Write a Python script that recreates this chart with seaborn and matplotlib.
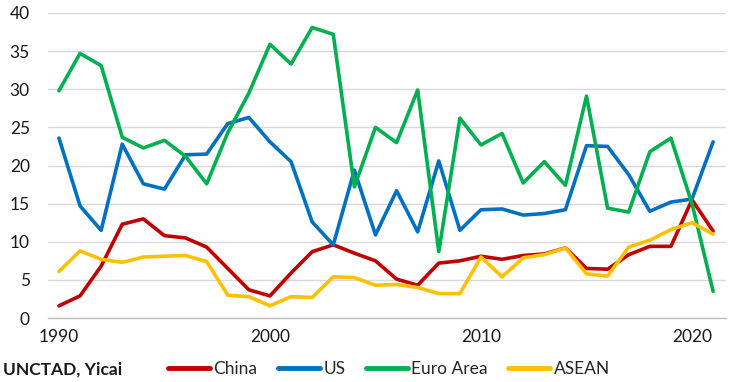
import numpy as np
import pandas as pd
import matplotlib
matplotlib.use("Agg")
import matplotlib.pyplot as plt
import seaborn as sns

years = list(range(1990, 2022))
china = [1.6, 2.9, 6.8, 12.3, 13.0, 10.8, 10.5, 9.3, 6.5, 3.7, 2.9, 5.9, 8.7, 9.6, 8.5, 7.5,
         5.1, 4.3, 7.2, 7.5, 8.1, 7.7, 8.2, 8.4, 9.2, 6.5, 6.4, 8.3, 9.4, 9.4, 15.5, 11.4]
us = [23.6, 14.7, 11.5, 22.8, 17.6, 16.9, 21.4, 21.5, 25.5, 26.3, 23.1, 20.5, 12.6, 9.6, 19.4, 10.9,
      16.7, 11.3, 20.6, 11.5, 14.2, 14.3, 13.5, 13.7, 14.2, 22.6, 22.5, 18.8, 14.0, 15.2, 15.6, 23.1]
euro = [29.8, 34.7, 33.1, 23.7, 22.3, 23.3, 21.2, 17.6, 24.3, 29.5, 35.9, 33.3, 38.1, 37.2, 17.2, 25.0,
        23.0, 29.9, 8.7, 26.2, 22.7, 24.2, 17.7, 20.5, 17.4, 29.1, 14.4, 13.9, 21.8, 23.6, 15.0, 3.5]
asean = [6.1, 8.8, 7.7, 7.3, 8.0, 8.1, 8.2, 7.4, 3.0, 2.8, 1.6, 2.8, 2.7, 5.4, 5.3, 4.3,
         4.4, 4.0, 3.2, 3.2, 8.0, 5.4, 7.9, 8.3, 9.2, 5.8, 5.5, 9.3, 10.2, 11.6, 12.5, 11.0]
series_names = ["China", "US", "Euro Area", "ASEAN"]
colors = ["#C00000", "#0070C0", "#00B050", "#FFC000"]
yticks = [0, 5, 10, 15, 20, 25, 30, 35, 40]
xticks = [1990, 2000, 2010, 2020]

df = pd.concat([
    pd.DataFrame({"year": years, "value": vals, "series": name})
    for name, vals in zip(series_names, [china, us, euro, asean])
])

sns.set_style("white")
plt.rcParams["font.family"] = ["Lato", "DejaVu Sans"]

fig = plt.figure(figsize=(7.38, 3.82), dpi=100)
ax = fig.add_axes([0.065, 0.1675, 0.919, 0.7985])

sns.lineplot(data=df, x="year", y="value", hue="series", palette=colors,
             hue_order=series_names, linewidth=2.6, ax=ax, legend=False)

ax.set_xlim(1989.48, 2021.62)
ax.set_ylim(0, 40)
ax.set_yticks(yticks)
ax.set_xticks(xticks)
ax.set_xticks(years, minor=True)
ax.set_xlabel("")
ax.set_ylabel("")
ax.grid(axis="y", color="#D9D9D9", linewidth=1)
ax.set_axisbelow(True)
for s in ["top", "right", "left"]:
    ax.spines[s].set_visible(False)
ax.spines["bottom"].set_color("#BFBFBF")
ax.spines["bottom"].set_linewidth(1)
ax.tick_params(axis="y", length=0, labelsize=12.5, pad=13, colors="#1a1a1a")
ax.tick_params(axis="x", which="both", direction="inout", length=6, color="#BFBFBF",
               labelsize=12.5, pad=5, labelcolor="#1a1a1a")

handles = [plt.Line2D([0], [0], color=c, linewidth=3.5) for c in colors]
fig.legend(handles, series_names, loc="center", bbox_to_anchor=(0.527, 0.033), ncol=4,
           frameon=False, fontsize=12.5, handlelength=2.4, handletextpad=0.2,
           columnspacing=1.2)
fig.text(0.004, 0.033, "UNCTAD, Yicai", fontsize=12.5, fontweight="bold", va="center",
         color="#1a1a1a")

fig.savefig("out.png", dpi=100)
